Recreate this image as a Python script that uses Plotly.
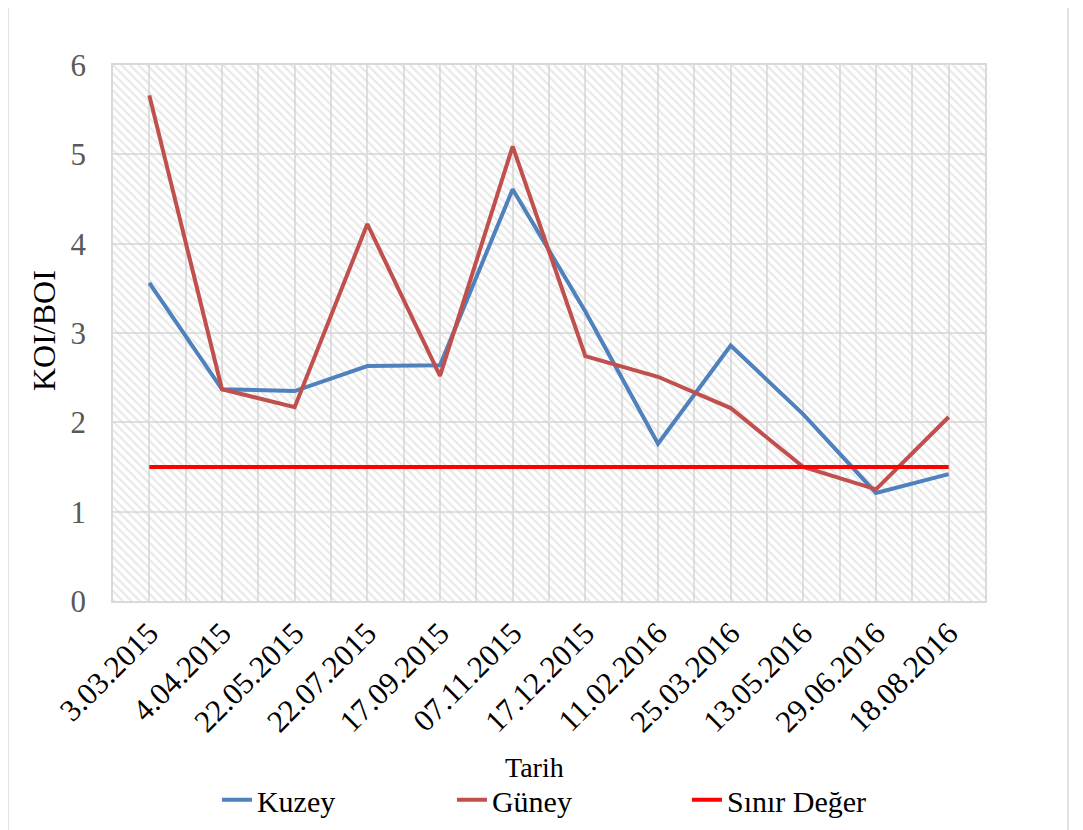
import plotly.graph_objects as go

dates = ["3.03.2015", "4.04.2015", "22.05.2015", "22.07.2015", "17.09.2015", "07.11.2015",
         "17.12.2015", "11.02.2016", "25.03.2016", "13.05.2016", "29.06.2016", "18.08.2016"]
kuzey = [3.56, 2.37, 2.35, 2.63, 2.64, 4.61, 3.24, 1.76, 2.86, 2.09, 1.21, 1.42]
guney = [5.66, 2.37, 2.17, 4.22, 2.52, 5.09, 2.74, 2.51, 2.16, 1.50, 1.25, 2.06]
sinir = [1.5] * len(dates)
y_max = 6

idx = list(range(len(dates)))
FONT = "Liberation Serif"

fig = go.Figure()
# hatched plot background
fig.add_trace(go.Bar(
    x=idx, y=[y_max] * len(idx), width=1, showlegend=False, hoverinfo="skip",
    marker=dict(color="rgba(0,0,0,0)", line=dict(width=0),
                pattern=dict(shape="\\", fgcolor="#d0d0d0", bgcolor="rgba(0,0,0,0)",
                             size=6, solidity=0.35, fillmode="overlay")),
))
fig.add_trace(go.Scatter(x=idx, y=kuzey, mode="lines", name="Kuzey",
                         line=dict(color="#4F81BD", width=4)))
fig.add_trace(go.Scatter(x=idx, y=guney, mode="lines", name="Güney",
                         line=dict(color="#C0504D", width=4)))
fig.add_trace(go.Scatter(x=idx, y=sinir, mode="lines", name="Sınır Değer",
                         line=dict(color="#FF0000", width=4)))

fig.update_layout(
    width=1075, height=830,
    margin=dict(l=105, r=98, t=57, b=233),
    paper_bgcolor="white", plot_bgcolor="white",
    font=dict(family=FONT, color="black"),
    bargap=0,
    showlegend=True,
    legend=dict(orientation="h", x=0.1192, xanchor="left", y=-0.371, yanchor="middle",
                font=dict(size=30, family=FONT, color="black"), entrywidth=190,
                entrywidthmode="pixels", bgcolor="rgba(0,0,0,0)"),
    xaxis=dict(range=[-0.5, len(dates) - 0.5], tickmode="array", tickvals=idx, ticktext=dates,
               tickangle=-45, tickfont=dict(size=31, family=FONT, color="black"),
               showgrid=True, gridcolor="#e0e0e0", gridwidth=1.5, automargin=False,
               minor=dict(tickmode="array", tickvals=[i - 0.5 for i in idx] + [len(idx) - 0.5],
                          showgrid=True, gridcolor="#e0e0e0", gridwidth=1.5),
               showline=True, linecolor="#d9d9d9", linewidth=1.5, mirror=True,
               ticks="", zeroline=False),
    yaxis=dict(range=[0, y_max], dtick=1, tickfont=dict(size=31, family=FONT, color="#595959"),
               showgrid=True, gridcolor="#e0e0e0", gridwidth=1.5, automargin=False,
               showline=True, linecolor="#d9d9d9", linewidth=1.5, mirror=True,
               ticks="", zeroline=False, ticklabelstandoff=19),
    annotations=[
        dict(text="Tarih", xref="paper", yref="paper", x=(534 - 113) / 872, y=-0.310,
             xanchor="center", yanchor="middle", showarrow=False,
             font=dict(size=28, family=FONT, color="black")),
        dict(text="KOI/BOI", xref="paper", yref="paper", x=(44 - 113) / 872, y=(605 - 333) / 540,
             xanchor="center", yanchor="middle", showarrow=False, textangle=-90,
             font=dict(size=32, family=FONT, color="black")),
    ],
    shapes=[dict(type="rect", xref="paper", yref="paper", x0=(8 - 113) / 872, x1=(1068 - 113) / 872,
                 y0=-0.5, y1=(605 - 5) / 540, line=dict(color="#d9d9d9", width=1.5), layer="below")],
)

fig.write_html("out.html")
